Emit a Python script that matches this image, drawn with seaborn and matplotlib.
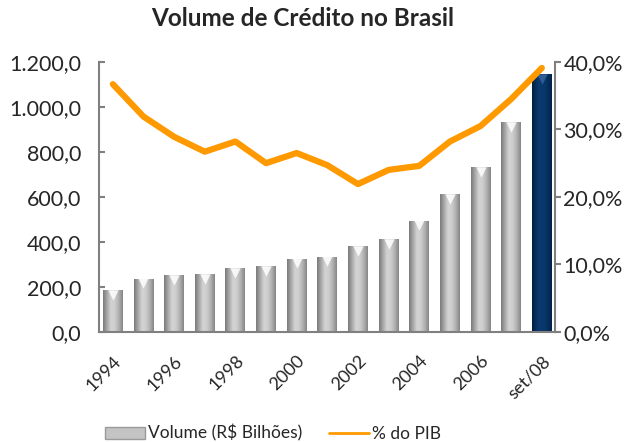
import numpy as np
import pandas as pd
import seaborn as sns
import matplotlib.pyplot as plt
import matplotlib.transforms as mtransforms
from matplotlib.colors import LinearSegmentedColormap
from matplotlib.lines import Line2D
from matplotlib.patches import Patch
from matplotlib.ticker import FuncFormatter

# dados
periodos = ['1994', '1995', '1996', '1997', '1998', '1999', '2000', '2001',
            '2002', '2003', '2004', '2005', '2006', '2007', 'set/08']
volume = [185, 237, 251, 259, 282, 291, 326, 335, 380, 411, 495, 611, 731, 932, 1144]
pct_pib = [36.7, 31.9, 28.9, 26.7, 28.2, 25.0, 26.5, 24.7, 21.9, 24.0, 24.6,
           28.2, 30.5, 34.5, 39.1]
rotulos_x = ['1994', '', '1996', '', '1998', '', '2000', '', '2002', '', '2004',
             '', '2006', '', 'set/08']

sns.set_theme(style='white')
plt.rcParams['font.family'] = ['Lato', 'DejaVu Sans']

laranja = '#ff9900'
cinza_eixo = '#808080'

fig = plt.figure(figsize=(6.35, 4.42), dpi=100)
ax = fig.add_axes([0.156, 0.249, 0.718, 0.611])

df = pd.DataFrame({'periodo': periodos, 'volume': volume})
cores = ['#bdbdbd'] * (len(periodos) - 1) + ['#06305f']
sns.barplot(data=df, x='periodo', y='volume', hue='periodo', palette=cores,
            legend=False, width=0.65, saturation=1, ax=ax)

# efeito de cilindro nas barras
grad = np.linspace(0, 1, 64).reshape(1, -1)
cmap_cinza = LinearSegmentedColormap.from_list(
    'cinza', ['#7a7a7a', '#a8a8a8', '#d4d4d4', '#cdcdcd', '#b0b0b0', '#868686'])
cmap_azul = LinearSegmentedColormap.from_list(
    'azul', ['#021f40', '#0a3a70', '#083668', '#022448'])
for i, p in enumerate(ax.patches):
    x0, y0, w, h = p.get_x(), p.get_y(), p.get_width(), p.get_height()
    cmap = cmap_azul if i == len(periodos) - 1 else cmap_cinza
    im = ax.imshow(grad, cmap=cmap, extent=[x0, x0 + w, y0, y0 + h],
                   aspect='auto', zorder=p.get_zorder() + 0.1)
    im.set_clip_path(p)

# brilho triangular no topo de cada barra
desloc = ax.transData + mtransforms.ScaledTranslation(0, -3.5 / 72, fig.dpi_scale_trans)
ax.scatter(range(len(periodos) - 1), volume[:-1], marker='v', s=55, color='white',
           alpha=0.85, linewidths=0, transform=desloc, zorder=3)
ax.scatter([len(periodos) - 1], volume[-1:], marker='v', s=55, color='#3f6ea8',
           alpha=0.7, linewidths=0, transform=desloc, zorder=3)

ax.set_xlim(-0.45, len(periodos) - 0.57)
ax.set_ylim(0, 1200)
ax.set_yticks(range(0, 1201, 200))
ax.yaxis.set_major_formatter(FuncFormatter(
    lambda v, _: f'{v:,.1f}'.replace(',', 'X').replace('.', ',').replace('X', '.')))
ax.set_xticks(range(len(periodos)))
ax.set_xticklabels(rotulos_x, rotation=45, ha='right', rotation_mode='anchor')
ax.set_xlabel('')
ax.set_ylabel('')

ax2 = ax.twinx()
sns.lineplot(x=np.arange(len(periodos)), y=pct_pib, color=laranja, lw=4.5,
             ax=ax2, zorder=5)
ax2.set_ylim(0, 40)
ax2.set_yticks(range(0, 41, 10))
ax2.yaxis.set_major_formatter(FuncFormatter(lambda v, _: f'{v:.1f}%'.replace('.', ',')))

for a in (ax, ax2):
    a.spines['top'].set_visible(False)
    for s in ('left', 'right', 'bottom'):
        a.spines[s].set_color(cinza_eixo)
        a.spines[s].set_linewidth(1.5)
ax.spines['right'].set_visible(False)
ax2.spines['left'].set_visible(False)
ax2.spines['bottom'].set_visible(False)

ax.tick_params(axis='y', direction='in', length=4, color=cinza_eixo, width=1.5,
               labelsize=15.5, pad=13, left=True)
ax2.tick_params(axis='y', direction='out', length=4, color=cinza_eixo, width=1.5,
                labelsize=15.5, pad=2, right=True)
ax.tick_params(axis='x', length=0, labelsize=13, pad=15)

fig.suptitle('Volume de Crédito no Brasil', x=0.476, y=0.985, va='top',
             fontsize=17.5, fontweight='bold')

handles = [Patch(facecolor='#c4c4c4', edgecolor='#9a9a9a'),
           Line2D([], [], color=laranja, lw=2)]
fig.legend(handles, ['Volume (R$ Bilhões)', '% do PIB'], loc='lower center',
           bbox_to_anchor=(0.43, -0.035), ncol=2, frameon=False, fontsize=12.5,
           handlelength=2.3, handletextpad=0.2, columnspacing=1.5)

fig.savefig('out.png', dpi=100)
